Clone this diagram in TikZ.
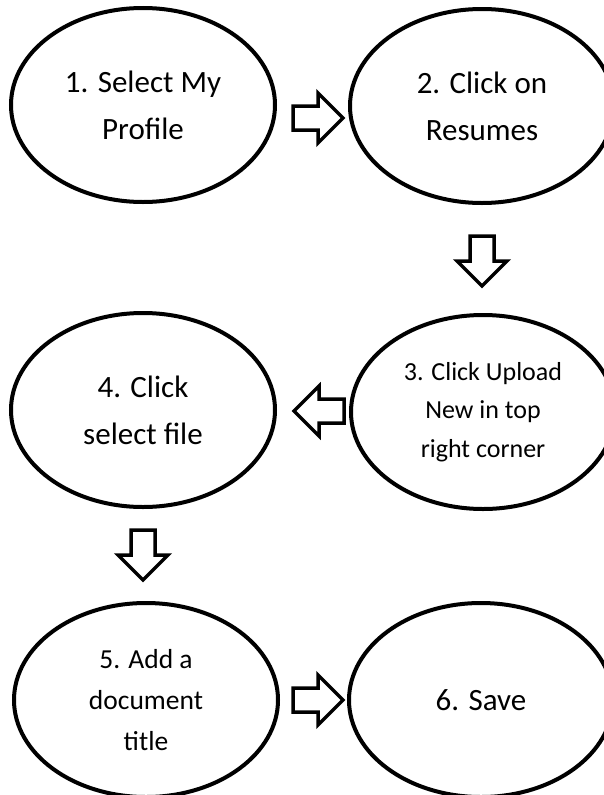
\documentclass[tikz,border=0pt]{standalone}
\usepackage{fontspec}
\setmainfont{Carlito}
\usetikzlibrary{shapes.geometric}

\tikzset{
  pics/blockarrow/.style={code={
    \draw[line width=3.5pt,fill=white,miter limit=4] (0,-12) -- (25,-12) -- (25,-25) -- (50,0) -- (25,25) -- (25,12) -- (0,12) -- cycle;
  }}
}

\begin{document}
\begin{tikzpicture}[x=1pt,y=1pt,yscale=-1,xscale=1,
  stepoval/.style={draw,ellipse,line width=4pt,minimum width=264pt,minimum height=194pt,inner sep=0pt,align=center},
  bigtext/.style={font=\fontsize{31}{47}\selectfont}]
\useasboundingbox (0,0) rectangle (604,795);

%Shape: Ellipse
\node[stepoval,bigtext] (profile) at (143,105) {1. Select My\\Profile};
%Shape: Ellipse
\node[stepoval,bigtext] (resumes) at (482,106) {2. Click on\\Resumes};
%Shape: Ellipse
\node[stepoval,font=\fontsize{26}{38.5}\selectfont] (upload) at (483,412) {3. Click Upload\\New in top\\right corner};
%Shape: Ellipse
\node[stepoval,bigtext] (selectfile) at (143,410) {4. Click\\select file};
%Shape: Ellipse
\node[stepoval,font=\fontsize{27.5}{41}\selectfont] (doctitle) at (146,700) {5. Add a\\document\\title};
%Shape: Ellipse
\node[stepoval,bigtext] (save) at (481,700) {6. Save};

%Right Arrow
\pic (profiletoresumes) at (293,118) {blockarrow};
%Down Arrow
\pic[rotate=-90] (resumestoupload) at (482,236) {blockarrow};
%Left Arrow
\pic[rotate=180] (uploadtoselect) at (344,411) {blockarrow};
%Down Arrow
\pic[rotate=-90] (selecttotitle) at (143,530) {blockarrow};
%Right Arrow
\pic (titletosave) at (293,700) {blockarrow};

\end{tikzpicture}
\end{document}
